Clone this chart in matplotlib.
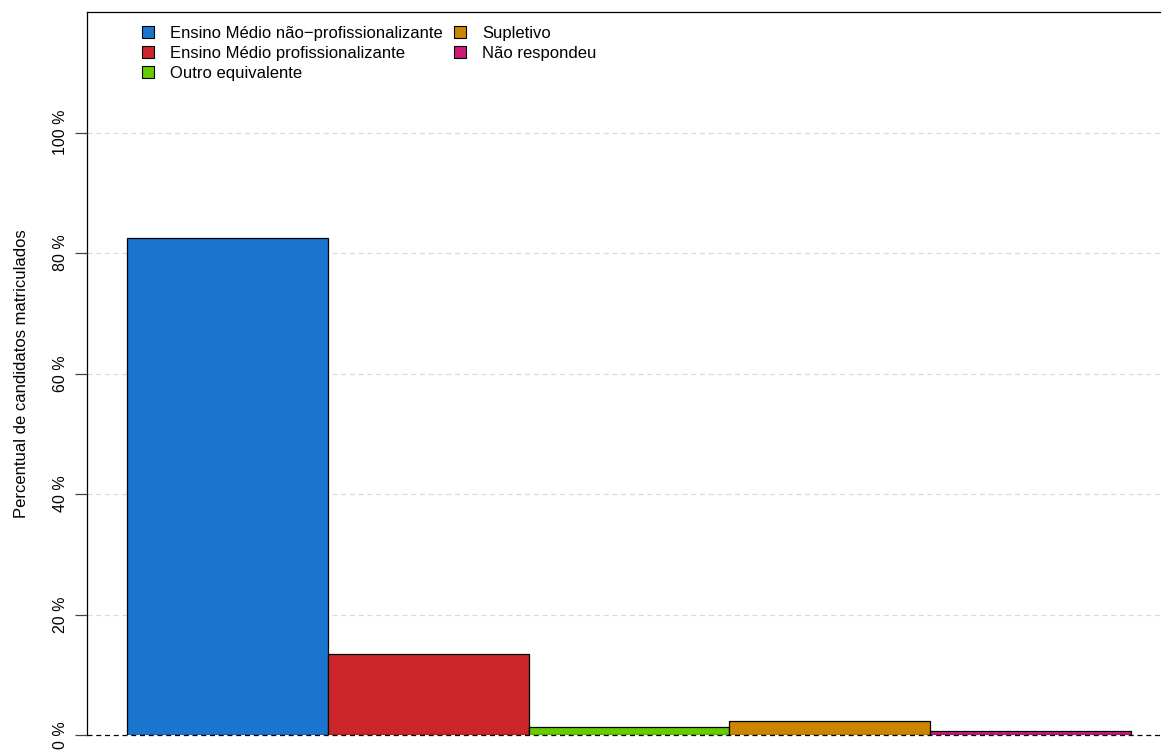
import matplotlib.pyplot as plt
from matplotlib.patches import Patch

# data
categorias = ['Ensino Médio não\u2212profissionalizante', 'Ensino Médio profissionalizante',
              'Outro equivalente', 'Supletivo', 'Não respondeu']
percentuais = [82.5, 13.5, 1.3, 2.3, 0.7]
cores = ['#1B75CF', '#CC2529', '#66CC00', '#CC8500', '#CC1A78']
yticks = [0, 20, 40, 60, 80, 100]
ytick_labels = ['0 %', '20 %', '40 %', '60 %', '80 %', '100 %']

plt.rcParams['font.family'] = ['Liberation Sans', 'DejaVu Sans']

fig = plt.figure(figsize=(11.61, 7.54), dpi=100)
W, H = 1161, 754
ax_w, ax_h = 1171 - 87, 735 - 12
ax = fig.add_axes([87 / W, (H - 735) / H, ax_w / W, ax_h / H])

# grid lines
for t in yticks[1:]:
    ax.axhline(t, color='#d9d9d9', lw=0.9, ls=(0, (4, 3)), zorder=0)

xpos = list(range(len(percentuais)))
ax.bar(xpos, percentuais, width=1.0, align='edge', color=cores,
       edgecolor='black', linewidth=0.9, zorder=2)
ax.axhline(0, color='black', lw=0.9, ls=(0, (4, 3)), zorder=3, clip_on=False)

ax.set_xlim(-0.2, 5.2)
ax.set_ylim(0, 120)
ax.set_xticks([])
ax.set_yticks(yticks)
ax.set_yticklabels(ytick_labels, rotation=90, va='center', fontsize=11.5)
ax.tick_params(axis='y', length=9, width=0.9, color='#444444', pad=5)

for s in ['right', 'bottom']:
    ax.spines[s].set_visible(False)
ax.spines['left'].set_linewidth(0.9)
ax.spines['top'].set_linewidth(0.9)

ax.set_ylabel('Percentual de candidatos matriculados', fontsize=12, labelpad=17)

handles = [Patch(facecolor=c, edgecolor='black', linewidth=0.8) for c in cores]
ax.legend(handles, categorias, ncol=2, frameon=False, fontsize=12,
          loc='upper left', bbox_to_anchor=(55 / ax_w, 1 - 14 / ax_h),
          handlelength=0.72, handleheight=0.72, handletextpad=0.95,
          labelspacing=0.3, columnspacing=0.7, borderaxespad=0, borderpad=0)

fig.savefig('out.png', dpi=100)
